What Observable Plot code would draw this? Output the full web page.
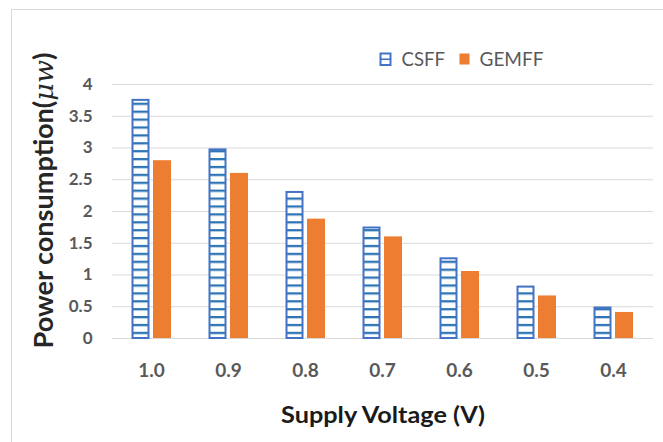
<!DOCTYPE html>
<html>
<head>
<meta charset="utf-8">
<script src="https://cdn.jsdelivr.net/npm/d3@7"></script>
<script src="https://cdn.jsdelivr.net/npm/@observablehq/plot@0.6"></script>
<style>
  html, body { margin: 0; padding: 0; background: #fff; }
  #wrap { position: relative; width: 663px; height: 442px; overflow: hidden; background: #fff; }
  #border { position: absolute; left: 11px; top: 9px; width: 800px; height: 600px;
            border-left: 1.5px solid #d9d9d9; border-top: 1.5px solid #d9d9d9; }
  #chart { position: absolute; left: 0; top: 0; }
  #legend { position: absolute; left: 0; top: 0; }
  g[aria-label="y-axis label"] { font-size: 26px; font-weight: bold; fill: #262626; }
  g[aria-label="x-axis label"] { font-size: 23px; font-weight: bold; fill: #1a1a1a; }
</style>
</head>
<body>
<div id="wrap">
  <div id="border"></div>
  <div id="chart"></div>
  <svg id="legend" width="663" height="442"></svg>
</div>
<script>
// ---- data ----
const voltages = ["1.0", "0.9", "0.8", "0.7", "0.6", "0.5", "0.4"];
const csff  = [3.75, 2.97, 2.30, 1.74, 1.255, 0.81, 0.48];
const gemff = [2.80, 2.60, 1.88, 1.60, 1.055, 0.67, 0.41];
const yTicks = [0, 0.5, 1, 1.5, 2, 2.5, 3, 3.5, 4];
const seriesNames = ["CSFF", "GEMFF"];
const yTitle = "Power consumption(μw)";
const xTitle = "Supply Voltage (V)";

const csffRows = voltages.map((v, i) => ({voltage: v, value: csff[i]}));
const gemffRows = voltages.map((v, i) => ({voltage: v, value: gemff[i]}));

const blue = "#4472C4";
const stripe = "#2E75B6";
const orange = "#ED7D31";

const chart = Plot.plot({
  width: 663,
  height: 442,
  marginLeft: 112,
  marginRight: 10,
  marginTop: 84,
  marginBottom: 104,
  style: {fontFamily: "Lato", color: "#595959", background: "transparent", overflow: "visible"},
  x: {type: "band", domain: voltages, paddingInner: 0.48, paddingOuter: 0.24},
  y: {domain: [0, 4]},
  marks: [
    Plot.gridY(yTicks, {stroke: "#d9d9d9", strokeOpacity: 1, strokeWidth: 1}),
    Plot.axisY(yTicks, {tickSize: 0, tickPadding: 20, fontSize: 17, fontWeight: "bold",
      tickFormat: d => `${d}`, label: yTitle, labelAnchor: "center", labelArrow: "none", labelOffset: 80}),
    Plot.axisX({tickSize: 0, tickPadding: 25, fontSize: 19, fontWeight: "bold",
      label: xTitle, labelAnchor: "center", labelArrow: "none", labelOffset: 84}),
    Plot.barY(csffRows, {x: "voltage", y: "value", fill: "url(#csffStripes)", stroke: blue,
      strokeWidth: 2, insetLeft: 1.5, insetRight: 22.5}),
    Plot.barY(gemffRows, {x: "voltage", y: "value", fill: orange, insetLeft: 22, insetRight: 0})
  ]
});

// pattern for CSFF bars
const defs = d3.select(chart).insert("defs", ":first-child");
const pat = defs.append("pattern").attr("id", "csffStripes")
  .attr("patternUnits", "userSpaceOnUse").attr("width", 8).attr("height", 7.9);
pat.append("rect").attr("width", 8).attr("height", 7.9).attr("fill", "#fff");
pat.append("rect").attr("y", 0).attr("width", 8).attr("height", 2.3).attr("fill", stripe);

// y title: italic μw, stretch to reference length, nudge up
d3.select(chart).selectAll('g[aria-label="y-axis label"]').each(function() {
  const g = d3.select(this);
  g.attr("transform", (g.attr("transform") || "") + " translate(2,-11)");
  g.selectAll("text").each(function() {
    const t = yTitle;
    const k = t.indexOf("μw");
    const sel = d3.select(this);
    sel.text(null);
    sel.attr("textLength", 296).attr("lengthAdjust", "spacingAndGlyphs");
    sel.append("tspan").text(t.slice(0, k));
    sel.append("tspan").attr("font-family", "DejaVu Serif").attr("font-style", "italic")
      .attr("font-weight", "normal").text("μw");
    sel.append("tspan").text(t.slice(k + 2));
  });
});
d3.select(chart).selectAll('g[aria-label="x-axis label"] text').each(function() {
  d3.select(this).text(xTitle).attr("textLength", 204).attr("lengthAdjust", "spacingAndGlyphs");
});

document.getElementById("chart").appendChild(chart);

// legend
const lg = d3.select("#legend");
lg.append("rect").attr("x", 380.5).attr("y", 53.5).attr("width", 10).attr("height", 11.5)
  .attr("fill", "#fff").attr("stroke", blue).attr("stroke-width", 2);
lg.append("line").attr("x1", 380.5).attr("x2", 390.5).attr("y1", 59.25).attr("y2", 59.25)
  .attr("stroke", blue).attr("stroke-width", 1.6);
lg.append("text").attr("x", 401.5).attr("y", 66).attr("font-family", "Lato").attr("font-size", 19.5)
  .attr("fill", "#595959").attr("textLength", 43.5).attr("lengthAdjust", "spacingAndGlyphs")
  .text(seriesNames[0]);
lg.append("rect").attr("x", 459.5).attr("y", 53.5).attr("width", 10).attr("height", 11)
  .attr("fill", orange);
lg.append("text").attr("x", 479.5).attr("y", 66).attr("font-family", "Lato").attr("font-size", 19.5)
  .attr("fill", "#595959").attr("textLength", 64).attr("lengthAdjust", "spacingAndGlyphs")
  .text(seriesNames[1]);
</script>
</body>
</html>
